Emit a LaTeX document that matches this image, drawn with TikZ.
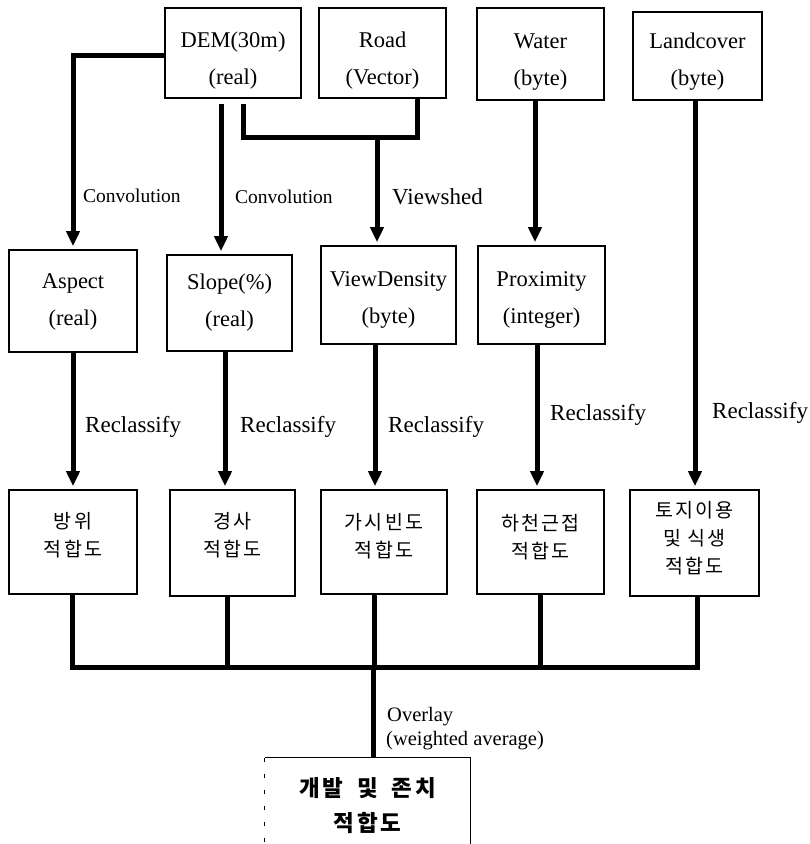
\documentclass[tikz,border=0pt]{standalone}
\usepackage{fontspec}
\setmainfont{Liberation Serif}
\newfontfamily\kr[LetterSpace=12]{Noto Sans CJK KR}
\usetikzlibrary{arrows.meta}
\begin{document}
\begin{tikzpicture}[x=1pt,y=-1pt,
  box/.style={draw,line width=1.6pt,inner sep=0pt},
  etext/.style={align=center,inner sep=0pt,font=\fontsize{22.5}{37}\selectfont},
  ktext/.style={align=center,inner sep=0pt,font=\kr\fontsize{19.5}{28}\selectfont},
  bus/.style={line width=5pt,line join=miter},
  arr/.style={line width=5pt,line join=miter,-{Triangle[width=13pt,length=15pt]},shorten >=3pt},
  lab/.style={anchor=west,inner sep=0pt,font=\fontsize{23}{26}\selectfont},
  clab/.style={anchor=west,inner sep=0pt,font=\fontsize{19.5}{24}\selectfont},
  olab/.style={anchor=west,inner sep=0pt,font=\fontsize{20.5}{24}\selectfont},
]
\useasboundingbox (0,0) rectangle (810,844);

% top row
\node[box,minimum width=136pt,minimum height=90pt] (dem) at (233,53) {};
\node[box,minimum width=127pt,minimum height=90pt] (road) at (382.5,53) {};
\node[box,minimum width=127pt,minimum height=92pt] (water) at (540.5,54) {};
\node[box,minimum width=129pt,minimum height=88pt] (land) at (697.5,56) {};
\node[etext] (demt) at (233,61) {DEM(30m)\\(real)};
\node[etext] (roadt) at (382.5,61) {Road\\(Vector)};
\node[etext] (watert) at (540.5,62) {Water\\(byte)};
\node[etext] (landt) at (697.5,62) {Landcover\\(byte)};

% middle row
\node[box,minimum width=128pt,minimum height=102pt] (aspect) at (73,301) {};
\node[box,minimum width=125pt,minimum height=96pt] (slope) at (229.5,303) {};
\node[box,minimum width=135pt,minimum height=98pt] (view) at (388.5,295) {};
\node[box,minimum width=127pt,minimum height=98pt] (prox) at (541.5,295) {};
\node[etext] (aspectt) at (73,302) {Aspect\\(real)};
\node[etext] (slopet) at (229.5,303) {Slope(\%)\\(real)};
\node[etext] (viewt) at (388.5,300) {ViewDensity\\(byte)};
\node[etext] (proxt) at (541.5,300) {Proximity\\(integer)};

% bottom row
\node[box,minimum width=128pt,minimum height=104pt] (s1) at (73,542) {};
\node[box,minimum width=125pt,minimum height=106pt] (s2) at (232.5,543) {};
\node[box,minimum width=126pt,minimum height=104pt] (s3) at (384,542) {};
\node[box,minimum width=127pt,minimum height=104pt] (s4) at (540.5,542) {};
\node[box,minimum width=129pt,minimum height=106pt] (s5) at (694.5,543) {};
\node[ktext] (s1t) at (73,535) {방위\\적합도};
\node[ktext] (s2t) at (232.5,535) {경사\\적합도};
\node[ktext] (s3t) at (384,536) {가시빈도\\적합도};
\node[ktext] (s4t) at (540.5,537) {하천근접\\적합도};
\node[ktext] (s5t) at (694.5,538) {토지이용\\및 식생\\적합도};

% final
\node[align=center,inner sep=0pt,minimum width=205pt,minimum height=96pt,
      font=\kr\bfseries\fontsize{22.5}{35}\selectfont] (final) at (367.5,806) {개발\hspace{6pt} 및\hspace{6pt} 존치\\적합도};
\draw[line width=0.8pt] (final.south east) -- (final.north east) -- (final.north west);
\draw[line width=0.8pt,dash pattern=on 4pt off 12pt] (final.north west) -- (final.south west);

% top connectors
\draw[arr] ([yshift=-2pt]dem.west) -| (aspect.north);
\draw[arr,shorten <=5pt] (221,0 |- dem.south) -- (221,0 |- slope.north);
\coordinate (vj) at (377,137);
\draw[bus,shorten <=5pt] (243,0 |- dem.south) |- (417,0 |- vj) -- (417,0 |- road.south);
\draw[arr] (vj) -- (vj |- view.north);
\draw[arr] (535,0 |- water.south) -- (535,0 |- prox.north);
\draw[arr] (695,0 |- land.south) -- (695,0 |- s5.north);

% middle connectors
\draw[arr] (73,0 |- aspect.south) -- (73,0 |- s1.north);
\draw[arr] (225,0 |- slope.south) -- (225,0 |- s2.north);
\draw[arr] (375,0 |- view.south) -- (375,0 |- s3.north);
\draw[arr] (537,0 |- prox.south) -- (537,0 |- s4.north);

% bus
\coordinate (busc) at (373,667);
\draw[bus] (72,0 |- s1.south) |- (697,0 |- busc) -- (697,0 |- s5.south);
\draw[bus] (227,0 |- s2.south) -- (227,0 |- busc);
\draw[bus] (374,0 |- s3.south) -- (374,0 |- busc);
\draw[bus] (540,0 |- s4.south) -- (540,0 |- busc);
\draw[bus] (busc) -- (busc |- final.north);

% labels
\node[clab] (c1) at (83,196) {Convolution};
\node[clab] (c2) at (235,197) {Convolution};
\node[lab] (vs) at (392,197) {Viewshed};
\node[lab] (r1) at (85,427) {Reclassify};
\node[lab] (r2) at (240,427) {Reclassify};
\node[lab] (r3) at (388,427) {Reclassify};
\node[lab] (r4) at (550,415) {Reclassify};
\node[lab] (r5) at (712,413) {Reclassify};
\node[olab] (ov) at (387,717) {Overlay};
\node[olab] (wa) at (386,741) {(weighted average)};
\end{tikzpicture}
\end{document}
